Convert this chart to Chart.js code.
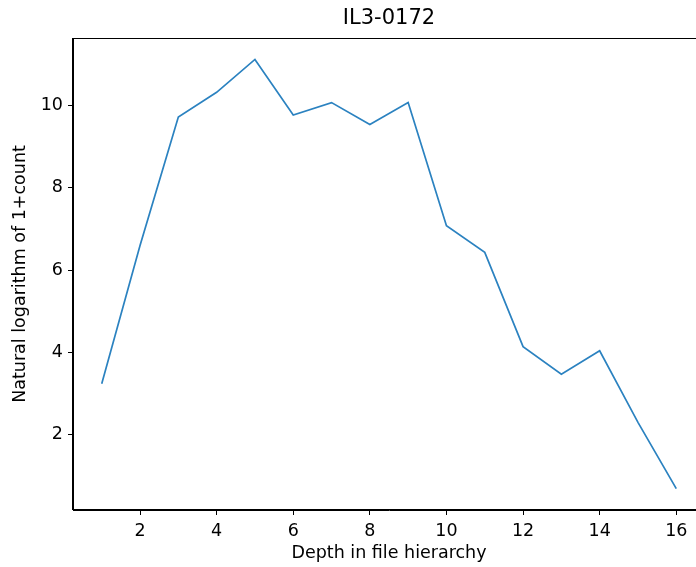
<!DOCTYPE html>
<html>
<head>
<meta charset="utf-8">
<script src="https://cdn.jsdelivr.net/npm/chart.js@4"></script>
<style>
  html, body { margin: 0; padding: 0; background: #fff; overflow: hidden; }
  #wrap { width: 705px; height: 567px; }
</style>
</head>
<body>
<div id="wrap"><canvas id="depthChart" width="705" height="567"></canvas></div>
<script>
// data block
const depths = [1, 2, 3, 4, 5, 6, 7, 8, 9, 10, 11, 12, 13, 14, 15, 16];
const logCounts = [3.24, 6.6, 9.72, 10.32, 11.12, 9.77, 10.07, 9.54, 10.07, 7.08, 6.43, 4.14, 3.47, 4.04, 2.3, 0.69];
const xTicks = [2, 4, 6, 8, 10, 12, 14, 16];
const yTicks = [2, 4, 6, 8, 10];

const tickFont = { family: 'DejaVu Sans', size: 17.5 };

// box round the plot area, like matplotlib spines
const framePlugin = {
    id: 'frame',
    afterDraw(chart) {
        const a = chart.chartArea;
        const ctx = chart.ctx;
        ctx.save();
        ctx.strokeStyle = '#000';
        ctx.lineWidth = 1;
        ctx.strokeRect(Math.round(a.left) - 0.5, Math.round(a.top) + 0.5,
            Math.round(a.right - a.left), Math.round(a.bottom - a.top) - 1);
        ctx.restore();
    }
};

const depthChartData = {
    datasets: [{
        data: depths.map((d, i) => ({ x: d, y: logCounts[i] })),
        borderColor: '#2b82c0',
        borderWidth: 1.7,
        pointRadius: 0,
        tension: 0,
        fill: false
    }]
};

const depthChartOptions = {
    responsive: false,
    animation: false,
    layout: { padding: 0 },
    plugins: {
        legend: { display: false },
        tooltip: { enabled: false },
        title: {
            display: true,
            text: 'IL3-0172',
            fullSize: false,
            color: '#000',
            font: { family: 'DejaVu Sans', size: 21, weight: 'normal' },
            padding: { top: 6.4, bottom: 6.4 }
        }
    },
    scales: {
        x: {
            type: 'linear',
            min: 0.25,
            max: 16.75,
            afterFit: s => { s.height = 57; },
            afterBuildTicks: s => { s.ticks = xTicks.map(v => ({ value: v })); },
            grid: { display: true, drawOnChartArea: false, drawTicks: true, tickLength: 5, tickColor: '#000' },
            border: { display: true, color: '#000', width: 1 },
            ticks: { color: '#000', font: tickFont, padding: 6, maxRotation: 0 },
            title: {
                display: true,
                text: 'Depth in file hierarchy',
                color: '#000',
                font: tickFont,
                padding: { top: 0, bottom: 3.5 }
            }
        },
        y: {
            min: 0.17,
            max: 11.64,
            afterFit: s => { s.width = 73; },
            afterBuildTicks: s => { s.ticks = yTicks.map(v => ({ value: v })); },
            grid: { display: true, drawOnChartArea: false, drawTicks: true, tickLength: 5, tickColor: '#000' },
            border: { display: true, color: '#000', width: 1 },
            ticks: { color: '#000', font: tickFont, padding: 5 },
            title: {
                display: true,
                text: 'Natural logarithm of 1+count',
                color: '#000',
                font: tickFont,
                padding: { top: 9.5, bottom: 0 }
            }
        }
    }
};

const depthChart = new Chart(document.getElementById('depthChart'), {
    type: 'line',
    data: depthChartData,
    options: depthChartOptions,
    plugins: [framePlugin]
});
</script>
</body>
</html>
